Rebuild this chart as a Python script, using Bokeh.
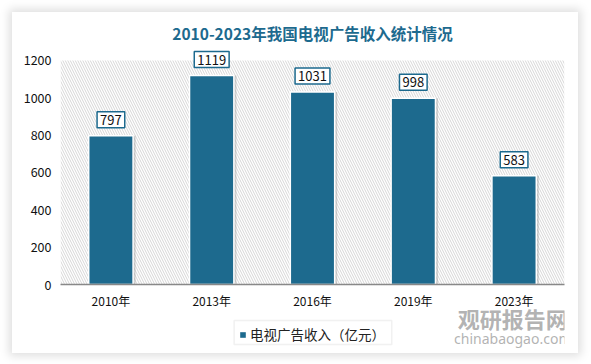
from bokeh.plotting import figure
from bokeh.layouts import column
from bokeh.models import (ColumnDataSource, BoxAnnotation, Legend, LegendItem,
                          Label, FixedTicker)
from bokeh.transform import dodge
from bokeh.embed import file_html
from bokeh.resources import INLINE

years = ["2010年", "2013年", "2016年", "2019年", "2023年"]
revenue = [797, 1119, 1031, 998, 583]
value_labels = ["797", "1119", "1031", "998", "583"]
y_ticks = [0, 200, 400, 600, 800, 1000, 1200]
y_top_tick = 1200

title_text = "2010-2023年我国电视广告收入统计情况"
legend_text = "电视广告收入（亿元）"
wm_cn = "观研报告网"
wm_en = "chinabaogao.com"

TEAL = "#1d6a8e"
FONT = "Noto Sans CJK SC"
W = 566


def blank(h):
    f = figure(width=W, height=h, x_range=(0, W), y_range=(0, h),
               output_backend="svg", toolbar_location=None,
               x_axis_location=None, y_axis_location=None,
               min_border=0, min_border_left=0, min_border_right=0,
               min_border_top=0, min_border_bottom=0)
    f.grid.visible = False
    f.outline_line_color = None
    f.background_fill_alpha = 0
    f.border_fill_alpha = 0
    return f


# header with title
head = blank(36)
head.add_layout(Label(x=W / 2, y=16, text=title_text, text_align="center",
                      text_baseline="middle", text_font=FONT, text_font_size="15.5px",
                      text_font_style="bold", text_color=TEAL))

# main chart
src = ColumnDataSource(dict(x=years, y=revenue, lab=value_labels))
p = figure(x_range=years, y_range=(0, 1264), width=W, height=263,
           output_backend="svg", toolbar_location=None,
           min_border_left=48, min_border_right=14, min_border_top=0, min_border_bottom=26)
p.background_fill_color = "white"
p.border_fill_color = "white"
p.outline_line_color = None

bg = BoxAnnotation(top=y_top_tick, fill_color="white", fill_alpha=1, hatch_pattern="\\",
                   hatch_color="#d6d6d6", hatch_scale=5, hatch_weight=1,
                   line_color=None, level="underlay")
p.add_layout(bg)

p.vbar(x=dodge("x", 0.025, range=p.x_range), top="y", width=0.44, source=src,
       fill_color="#8a8a8a", fill_alpha=0.35, line_color=None)
bars = p.vbar(x="x", top="y", width=0.44, source=src, fill_color=TEAL,
              line_color="white", line_width=1.5)

for i, (yv, lv) in enumerate(zip(revenue, value_labels)):
    p.add_layout(Label(x=i + 0.5, y=yv, text=lv, text_align="center",
                       text_baseline="bottom", y_offset=8, text_font=FONT, text_font_size="13px",
                       text_color="#111111", background_fill_color="white",
                       border_line_color=TEAL, border_line_width=1.5, padding=3))

p.xgrid.visible = False
p.ygrid.visible = False

p.yaxis.ticker = FixedTicker(ticks=y_ticks)
p.yaxis.axis_line_color = None
p.yaxis.major_tick_line_color = None
p.yaxis.minor_tick_line_color = None
p.yaxis.major_tick_out = 0
p.yaxis.major_tick_in = 0
p.yaxis.major_label_text_font = FONT
p.yaxis.major_label_text_font_size = "12.5px"
p.yaxis.major_label_text_color = "#111111"
p.yaxis.major_label_standoff = 9

p.xaxis.axis_line_color = "#888888"
p.xaxis.axis_line_width = 1.5
p.xaxis.major_tick_line_color = None
p.xaxis.minor_tick_line_color = None
p.xaxis.major_tick_out = 0
p.xaxis.major_tick_in = 0
p.xaxis.major_label_text_font = FONT
p.xaxis.major_label_text_font_size = "12px"
p.xaxis.major_label_text_color = "#111111"
p.xaxis.major_label_standoff = 7

# footer with legend and watermark
foot = blank(50)
foot.margin = (-8, 0, 0, 0)
foot.add_layout(BoxAnnotation(left=195, right=372, bottom=9, top=33, fill_color="white",
                              fill_alpha=1, line_color="#d2d2d2", line_width=1.5))
swatch = foot.rect(x=[0], y=[0], width=[0], height=[0], fill_color=TEAL, line_color=None)
legend = Legend(items=[LegendItem(label=legend_text, renderers=[swatch])],
                location="bottom_center", orientation="horizontal",
                label_text_font=FONT, label_text_font_size="13.5px", label_text_color="#222222",
                border_line_color=None, background_fill_alpha=0,
                glyph_width=7, glyph_height=7, padding=2, margin=9,
                label_standoff=4)
foot.add_layout(legend)
foot.add_layout(Label(x=446, y=36, text=wm_cn, text_baseline="middle",
                      text_font=FONT, text_font_size="22px", text_font_style="bold",
                      text_color="#a5a5a5", text_alpha=0.85))
foot.add_layout(Label(x=442, y=15, text=wm_en, text_baseline="middle",
                      text_font="Noto Sans", text_font_size="14px",
                      text_color="#a5a5a5", text_alpha=0.85))

layout = column(head, p, foot, spacing=0)
layout.margin = (12, 0, 0, 12)
layout.styles = {"box-shadow": "0 0 9px 3px rgba(0,0,0,0.13)", "background-color": "white"}

open("out.html", "w").write(file_html(layout, INLINE))
